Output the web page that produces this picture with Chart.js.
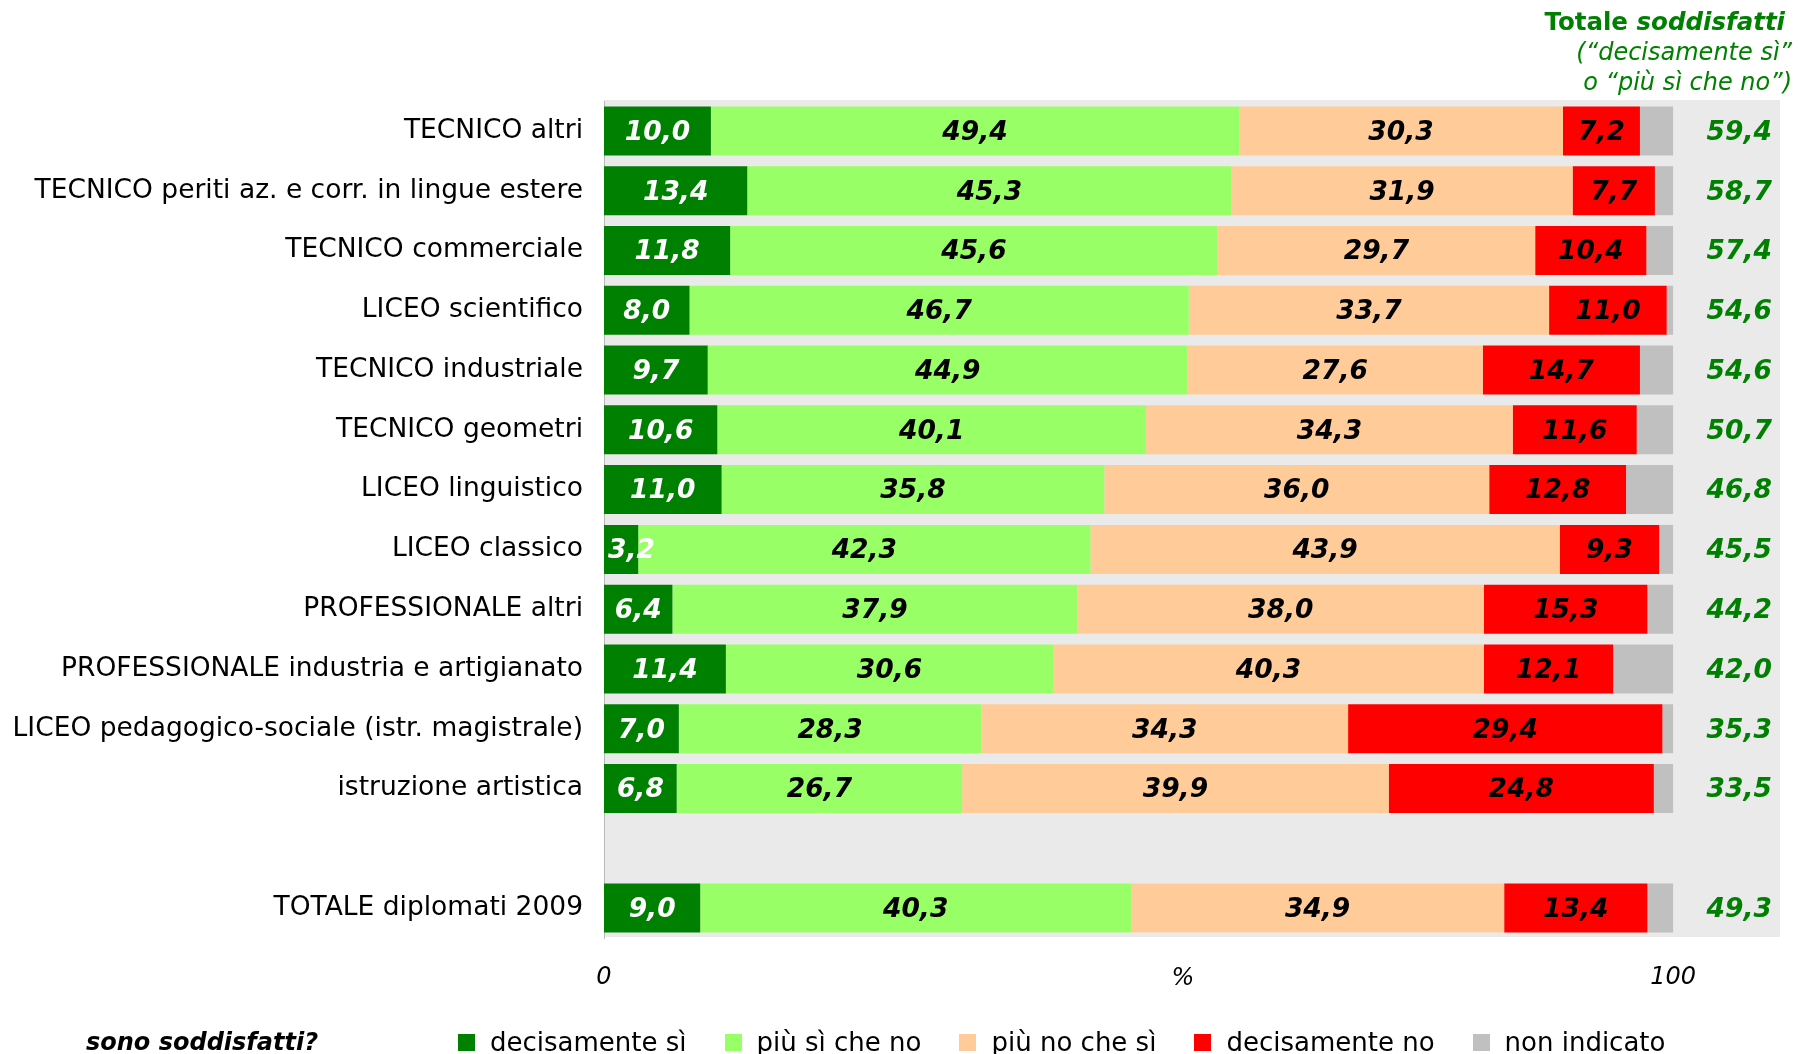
<!DOCTYPE html>
<html>
<head>
<meta charset="utf-8">
<script src="https://cdn.jsdelivr.net/npm/chart.js@4.4.1/dist/chart.umd.min.js"></script>
<style>
  body { margin: 0; background: #fff; font-family: 'DejaVu Sans', sans-serif; }
  #wrap { position: relative; width: 1798px; height: 1054px; }
  #head { position: absolute; right: 6px; top: 7px; text-align: right; color: #008000; font-size: 24px; line-height: 30px; }
  #head .t { font-weight: bold; font-size: 24.5px; margin-right: 7px; }
  #head i { font-style: italic; }
  #legend { position: absolute; left: 86px; top: 1027px; display: flex; align-items: center; font-size: 26px; white-space: nowrap; }
  #legend .q { font-weight: bold; font-style: italic; font-size: 24px; width: 372px; }
  #legend .it { display: flex; align-items: center; margin-right: 38px; }
  #legend .sq { width: 17px; height: 17px; margin-right: 15px; }
</style>
</head>
<body>
<div id="wrap">
  <canvas id="chart"></canvas>
  <div id="head">
    <div class="t">Totale <i>soddisfatti</i></div>
    <div><i>(“decisamente sì”</i></div>
    <div><i>o “più sì che no”)</i></div>
  </div>
  <div id="legend"></div>
</div>
<script>
/* Soddisfazione per tipo di diploma - barre 100% in pila */

const categories = [
  'TECNICO altri',
  'TECNICO periti az. e corr. in lingue estere',
  'TECNICO commerciale',
  'LICEO scientifico',
  'TECNICO industriale',
  'TECNICO geometri',
  'LICEO linguistico',
  'LICEO classico',
  'PROFESSIONALE altri',
  'PROFESSIONALE industria e artigianato',
  'LICEO pedagogico-sociale (istr. magistrale)',
  'istruzione artistica',
  '',
  'TOTALE diplomati 2009'
];
const decisamenteSi = [10.0, 13.4, 11.8, 8.0, 9.7, 10.6, 11.0, 3.2, 6.4, 11.4, 7.0, 6.8, null, 9.0];
const piuSiCheNo    = [49.4, 45.3, 45.6, 46.7, 44.9, 40.1, 35.8, 42.3, 37.9, 30.6, 28.3, 26.7, null, 40.3];
const piuNoCheSi    = [30.3, 31.9, 29.7, 33.7, 27.6, 34.3, 36.0, 43.9, 38.0, 40.3, 34.3, 39.9, null, 34.9];
const decisamenteNo = [7.2, 7.7, 10.4, 11.0, 14.7, 11.6, 12.8, 9.3, 15.3, 12.1, 29.4, 24.8, null, 13.4];
const nonIndicato   = [3.1, 1.7, 2.5, 0.6, 3.1, 3.4, 4.4, 1.3, 2.4, 5.6, 1.0, 1.8, null, 2.4];
const totaleSoddisfatti = [59.4, 58.7, 57.4, 54.6, 54.6, 50.7, 46.8, 45.5, 44.2, 42.0, 35.3, 33.5, null, 49.3];
const xTicks = [0, 100];

const FONT = "'DejaVu Sans', sans-serif";
const fmt = v => v.toFixed(1).replace('.', ',');

// grey plot background
const bgPlugin = {
  id: 'bg',
  beforeDraw(chart) {
    const { ctx, chartArea: a } = chart;
    ctx.save();
    ctx.fillStyle = '#eaeaea';
    ctx.fillRect(a.left, a.top - 1, a.right - a.left, a.bottom - a.top);
    ctx.restore();
  }
};

// values inside bars, totals on the right, "%" under the axis
const labelPlugin = {
  id: 'labels',
  afterDatasetsDraw(chart) {
    const { ctx, chartArea: a } = chart;
    ctx.save();
    ctx.font = `italic bold 26.5px ${FONT}`;
    ctx.textBaseline = 'middle';
    ctx.textAlign = 'center';
    chart.data.datasets.forEach((ds, di) => {
      if (di > 3) return;
      chart.getDatasetMeta(di).data.forEach((bar, i) => {
        const v = ds.data[i];
        if (v == null) return;
        const txt = fmt(v);
        const w = ctx.measureText(txt).width;
        const left = Math.min(bar.x, bar.base);
        const x = Math.max(bar.getCenterPoint().x, left + 4 + w / 2);
        ctx.fillStyle = di === 0 ? '#ffffff' : '#000000';
        ctx.fillText(txt, x, bar.y + 2);
      });
    });

    ctx.fillStyle = '#008000';
    ctx.textAlign = 'right';
    const y = chart.scales.y;
    totaleSoddisfatti.forEach((v, i) => {
      if (v == null) return;
      ctx.fillText(fmt(v), a.right - 8, y.getPixelForValue(i) + 2);
    });

    ctx.fillStyle = '#000';
    ctx.textAlign = 'center';
    ctx.font = `italic 24px ${FONT}`;
    ctx.fillText('%', (a.left + a.right) / 2 - 9, a.bottom + 41);
    ctx.restore();
  }
};

const chart = new Chart(document.getElementById('chart'), {
  type: 'bar',
  data: {
    labels: categories,
    datasets: [
      { label: 'decisamente sì', data: decisamenteSi, backgroundColor: '#008000' },
      { label: 'più sì che no',  data: piuSiCheNo,    backgroundColor: '#99ff66' },
      { label: 'più no che sì',  data: piuNoCheSi,    backgroundColor: '#ffcc99' },
      { label: 'decisamente no', data: decisamenteNo, backgroundColor: '#ff0000' },
      { label: 'non indicato',   data: nonIndicato,   backgroundColor: '#c0c0c0' }
    ]
  },
  options: {
    indexAxis: 'y',
    responsive: true,
    maintainAspectRatio: false,
    animation: false,
    layout: { padding: { top: 101, right: 18, left: 0, bottom: 0 } },
    datasets: { bar: { categoryPercentage: 1, barPercentage: 0.82, borderWidth: 0 } },
    plugins: { legend: { display: false }, tooltip: { enabled: false } },
    scales: {
      x: {
        stacked: true,
        min: 0,
        max: 110,
        afterBuildTicks: s => { s.ticks = xTicks.map(v => ({ value: v })); },
        afterFit: s => { s.height = 116; },
        grid: { display: false, drawTicks: false },
        border: { display: false },
        ticks: { color: '#000', padding: 25, font: { family: FONT, size: 24, style: 'italic' } }
      },
      y: {
        stacked: true,
        afterFit: s => { s.width = 604; },
        grid: { display: false, drawTicks: false },
        border: { color: '#b8b8b8', width: 1 },
        ticks: { color: '#000', padding: 21, autoSkip: false, font: { family: FONT, size: 26.5 } }
      }
    }
  },
  plugins: [bgPlugin, labelPlugin]
});

// legend below the chart
const legend = document.getElementById('legend');
legend.innerHTML = '<span class="q">sono soddisfatti?</span>' +
  chart.data.datasets.map(ds =>
    `<span class="it"><span class="sq" style="background:${ds.backgroundColor}"></span>${ds.label}</span>`
  ).join('');
</script>
</body>
</html>
